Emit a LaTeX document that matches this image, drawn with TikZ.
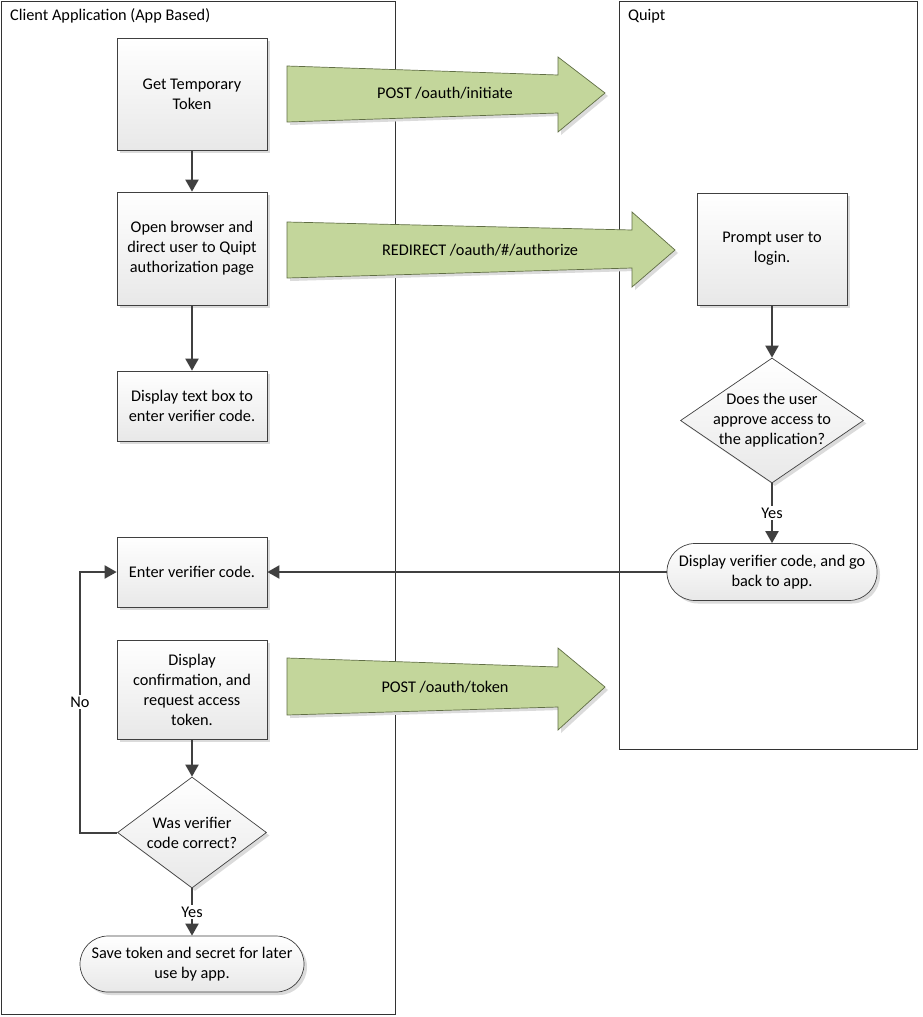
\documentclass[tikz,border=0pt]{standalone}
\usepackage{fontspec}
\setmainfont{Carlito}
\usetikzlibrary{shapes.geometric,arrows.meta,shadows}
\definecolor{arrowgreen}{RGB}{195,214,155}
\definecolor{arrowedge}{RGB}{96,110,68}
\definecolor{lineg}{RGB}{64,64,64}
\begin{document}
\begin{tikzpicture}[x=1pt,y=-1pt,
  font=\fontsize{16.3}{20}\selectfont,
  pool/.style={draw=black!80,line width=0.8pt},
  shadowed/.style={general shadow={fill=black!14,shadow xshift=3pt,shadow yshift=-3pt}},
  box/.style={shadowed,draw=lineg,line width=0.7pt,top color=white,bottom color=black!9,
    minimum width=150pt,align=center,inner sep=0pt},
  term/.style={box,rounded corners=28pt},
  decision/.style={shadowed,diamond,draw=lineg,line width=0.7pt,top color=white,bottom color=black!9,inner sep=0pt},
  bigarrow/.style={shadowed,fill=arrowgreen,draw=arrowedge,line width=0.7pt},
  conn/.style={draw=lineg,line width=2pt,-{Triangle[width=13pt,length=12pt]}},
  lbl/.style={fill=white,inner sep=1.5pt},
  title/.style={anchor=base west,inner sep=0pt}
]
\useasboundingbox (0,0) rectangle (923,1017);
\fill[white] (0,0) rectangle (923,1017);

% pools
\draw[pool] (1,1) rectangle (395,1014);
\draw[pool] (619,1) rectangle (917,749);
\node[title] (ltitle) at (10,20) {Client Application (App Based)};
\node[title] (rtitle) at (628,20) {Quipt};

% big arrows
\draw[bigarrow] (287,66) -- (558,75) -- (558,57) -- (605,93) -- (558,132) -- (558,113) -- (287,122) -- cycle;
\node (a1) at (445,93) {POST /oauth/initiate};
\draw[bigarrow] (287,222) -- (632,230) -- (632,212) -- (675,250) -- (632,287) -- (632,268) -- (287,278) -- cycle;
\node (a2) at (480,250) {REDIRECT /oauth/\#/authorize};
\draw[bigarrow] (287,658) -- (558,667) -- (558,648) -- (605,687) -- (558,730) -- (558,707) -- (287,715) -- cycle;
\node (a3) at (445,687) {POST /oauth/token};

% client nodes
\node[box,minimum height=112pt] (b1) at (192,94) {Get Temporary\\Token};
\node[box,minimum height=113pt] (b2) at (192,248.5) {Open browser and\\direct user to Quipt\\authorization page};
\node[box,minimum height=70pt] (b3) at (192,406) {Display text box to\\enter verifier code.};
\node[box,minimum height=70pt] (b4) at (192,572) {Enter verifier code.};
\node[box,minimum height=99pt] (b5) at (192,689.5) {Display\\confirmation, and\\request access\\token.};
\node[decision,minimum width=149pt,minimum height=111pt,
  label={[align=center]center:Was verifier\\code correct?}] (d2) at (192,832.5) {};
\node[term,minimum width=224pt,minimum height=56pt] (t2) at (192,964) {Save token and secret for later\\use by app.};

% quipt nodes
\node[box,minimum height=112pt] (p1) at (772,249) {Prompt user to\\login.};
\node[decision,minimum width=183pt,minimum height=125pt,
  label={[align=center]center:Does the user\\approve access to\\the application?}] (d1) at (772,420.5) {};
\node[term,minimum width=210pt,minimum height=57pt] (t1) at (772,572) {Display verifier code, and go\\back to app.};

% connectors
\draw[conn] (b1) -- (b2);
\draw[conn] (b2) -- (b3);
\draw[conn] (b5) -- (d2);
\draw[conn] (d2.south) -- node[lbl] {Yes} (t2.north);
\coordinate (nb1) at (80,832.5);
\coordinate (nb2) at (80,572);
\draw[conn] (d2.west) -- (nb1) -- node[lbl] {No} (nb2) -- (b4.west);
\draw[conn] (p1) -- (d1);
\draw[conn] (d1.south) -- node[lbl] {Yes} (t1.north);
\draw[conn] (t1.west) -- (b4.east);
\end{tikzpicture}
\end{document}
